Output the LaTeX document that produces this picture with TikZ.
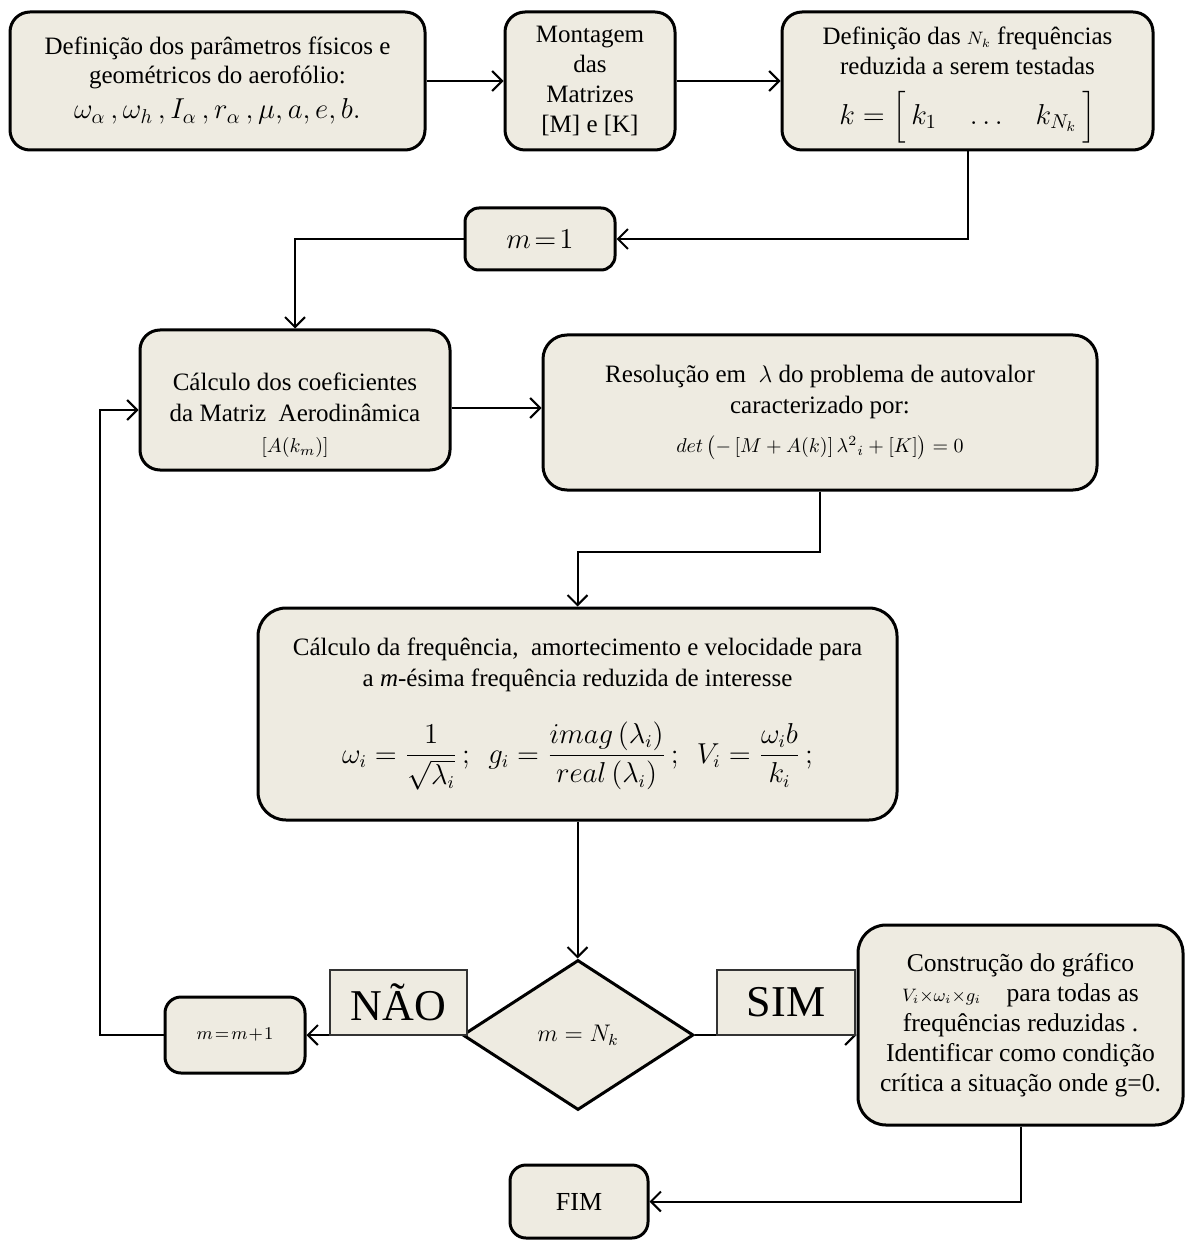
\documentclass[tikz,border=0pt]{standalone}
\usepackage{amsmath}
\usepackage{fontspec}
\setmainfont{Liberation Serif}
\usetikzlibrary{shapes.geometric,arrows.meta}
\definecolor{boxfill}{RGB}{238,235,225}
\begin{document}
\begin{tikzpicture}[x=0.5pt,y=-0.5pt,
  box/.style={draw=black, line width=1.5pt, fill=boxfill, rounded corners=10pt, align=center, inner sep=2pt},
  lbl/.style={draw=black!80, line width=0.8pt, fill=boxfill, inner sep=0pt},
  conn/.style={line width=1pt, -{Straight Barb[length=5pt,width=10pt]}}]
\useasboundingbox (0,0) rectangle (1185,1240);

\node[box, minimum width=207.5pt, minimum height=69pt, font=\fontsize{12.5}{14.5}\selectfont] (A) at (217.5,81)
  {Definição dos parâmetros físicos e\\ geométricos do aerofólio:\\[3pt]
   {\fontsize{14}{16}\selectfont $\omega_\alpha\,,\omega_h\,,I_\alpha\,,r_\alpha\,,\mu,a,e,b.$}};
\node[box, minimum width=85pt, minimum height=69pt, font=\fontsize{12.5}{15}\selectfont] (B) at (590,81)
  {Montagem\\ das\\ Matrizes\\ {[M]} e [K]};
\node[box, minimum width=185.5pt, minimum height=69pt, inner sep=1pt, font=\fontsize{12.5}{15}\selectfont] (C) at (967.5,81)
  {\rule{0pt}{13pt}Definição das ${\scriptstyle N_k}$ frequências\\ reduzida a serem testadas\\[7pt]
   {\fontsize{14}{16}\selectfont $k=\Bigl[\,k_1\quad\dots\quad k_{N_k}\,\Bigr]$}};
\node[box, minimum width=75pt, minimum height=31pt, rounded corners=7pt, font=\fontsize{14}{16}\selectfont] (m1) at (540,239)
  {$m\!=\!1$};
\node[box, minimum width=155pt, minimum height=70pt, font=\fontsize{12.5}{15.5}\selectfont] (D) at (295,400)
  {\rule{0pt}{24pt}Cálculo dos coeficientes\\ da Matriz\ \ Aerodinâmica\\
   {\fontsize{10}{12}\selectfont $\left[A(k_m)\right]$}};
\node[box, minimum width=277pt, minimum height=77.5pt, rounded corners=12pt, font=\fontsize{12.5}{15.5}\selectfont] (E) at (820,412.5)
  {Resolução em\ \ $\lambda$ do problema de autovalor\\ caracterizado por:\\[4pt]
   {\fontsize{10.4}{12}\selectfont $det\left(-\left[M+A(k)\right]\lambda^2{}_i+\left[K\right]\right)=0$}};
\node[box, minimum width=319.5pt, minimum height=106pt, rounded corners=14pt, font=\fontsize{12.5}{15.5}\selectfont] (F) at (577.5,714)
  {Cálculo da frequência,\ \ amortecimento e velocidade para\\
   a \textit{m}-ésima frequência reduzida de interesse\\[14pt]
   {\fontsize{13.5}{15}\selectfont $\displaystyle \omega_i=\frac{1}{\sqrt{\lambda_i}}\,;\ \ g_i=\frac{imag\left(\lambda_i\right)}{real\left(\lambda_i\right)}\,;\ \ V_i=\frac{\omega_i b}{k_i}\,;$}};
\node[draw=black, diamond, line width=1.5pt, fill=boxfill, minimum width=115.5pt, minimum height=75pt, inner sep=0pt, font=\fontsize{11.5}{13}\selectfont] (dia) at (578,1035)
  {$m=N_k$};
\node[box, minimum width=70pt, minimum height=38pt, rounded corners=8pt, font=\fontsize{9}{11}\selectfont] (mm1) at (235,1035)
  {$m\!=\!m\!+\!1$};
\node[box, minimum width=162.5pt, minimum height=100pt, rounded corners=14pt, font=\fontsize{12.8}{15}\selectfont] (G) at (1020.5,1025)
  {Construção do gráfico\\
   ${\scriptstyle V_i\times\omega_i\times g_i}$\quad para todas as\\ frequências reduzidas .\\
   Identificar como condição\\ crítica a situação onde g=0.};
\node[box, minimum width=69pt, minimum height=36.5pt, rounded corners=8pt, font=\fontsize{13}{15}\selectfont] (FIM) at (579,1201.5)
  {FIM};

\draw[conn] (A.east) -- (B.west);
\draw[conn] (B.east) -- (C.west);
\draw[conn] (C.south) -- (C.south |- m1.east) -- (m1.east);
\draw[conn] (m1.west) -| (D.north);
\draw[conn] (D.east |- 0,408) -- (E.west |- 0,408);
\draw[conn] (E.south) -- ++(0,60) -| (F.north);
\draw[conn] (F.south) -- (F.south |- dia.north);
\draw[conn] (dia.west) -- (mm1.east);
\coordinate (loopA) at (100,1035);
\coordinate (loopB) at (100,410);
\draw[conn] (mm1.west) -- (loopA) -- (loopB) -- (D.west |- loopB);
\draw[conn] (dia.east) -- (G.west |- dia.east);
\draw[conn] (G.south) -- (G.south |- FIM.east) -- (FIM.east);

\node[lbl, minimum width=68.5pt, minimum height=32.5pt, font=\fontsize{22}{24}\selectfont] (nao) at (398.5,1002.5)
  {NÃO};
\node[lbl, minimum width=69pt, minimum height=32.5pt, font=\fontsize{22}{24}\selectfont] (sim) at (786,1002.5)
  {SIM};
\end{tikzpicture}
\end{document}
